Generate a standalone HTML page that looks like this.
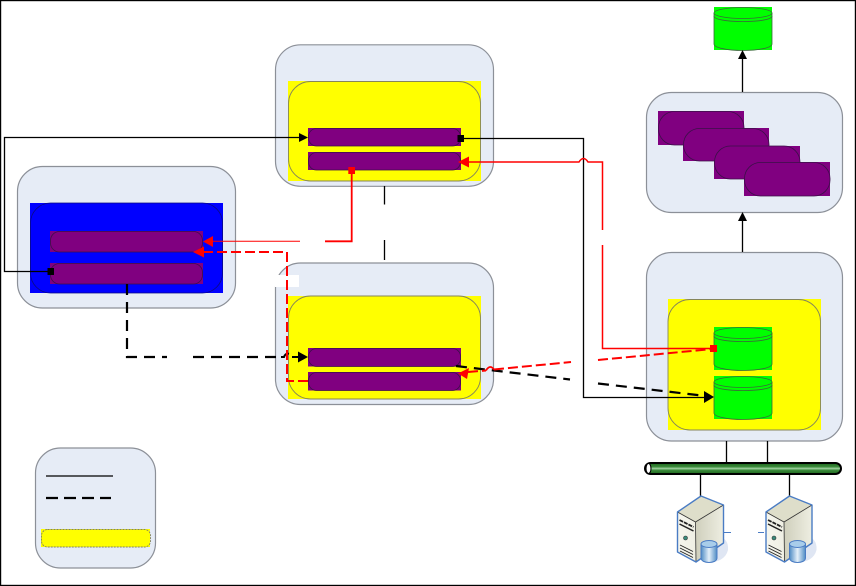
<!DOCTYPE html>
<html><head><meta charset="utf-8"><style>
html,body{margin:0;padding:0;background:#fff;width:856px;height:586px;overflow:hidden}
svg{display:block}
</style></head><body>
<svg width="856" height="586" viewBox="0 0 856 586" xmlns="http://www.w3.org/2000/svg">
<defs>
<linearGradient id="bus" x1="0" y1="0" x2="0" y2="1"><stop offset="0" stop-color="#1c641c"/><stop offset=".35" stop-color="#3c8c3c"/><stop offset=".5" stop-color="#a4d4a4"/><stop offset=".65" stop-color="#3c8c3c"/><stop offset="1" stop-color="#1c641c"/></linearGradient>
<linearGradient id="sf" x1="0" y1="0" x2="1" y2="0"><stop offset="0" stop-color="#f6f6ee"/><stop offset="1" stop-color="#e4e4d4"/></linearGradient>
<linearGradient id="ss" x1="0" y1="0" x2="1" y2="0"><stop offset="0" stop-color="#cfcfbc"/><stop offset="1" stop-color="#eeeee2"/></linearGradient>
<linearGradient id="dbg" x1="0" y1="0" x2="1" y2="0"><stop offset="0" stop-color="#4f8cc4"/><stop offset=".5" stop-color="#e4f0fa"/><stop offset="1" stop-color="#4f8cc4"/></linearGradient>
<g id="cyl">
<rect x="0.500" y="0" width="58" height="43" fill="#00ff00"/>
<path d="M0.500 6V37C0.500 40.500 13 43.500 29.500 43.500S58.500 40.500 58.500 37V6" fill="#00ff00" stroke="#3a6a3a" stroke-width=".8"/>
<ellipse cx="29.500" cy="6" rx="29" ry="5.500" fill="#00ff00" stroke="#3a6a3a" stroke-width=".8"/>
<path d="M0.500 9C0.500 12.500 13 14.500 29.500 14.500S58.500 12.500 58.500 9" fill="none" stroke="#3a6a3a" stroke-width=".8"/>
</g>
<g id="srv">
<path d="M40 40Q52 42 51 54Q48 66 30 67L26 56Z" fill="#dfe6f3"/>
<path d="M0.500 16L24 0L46.500 9V47L19 66L0.500 56Z" fill="url(#sf)"/>
<path d="M0.500 16L24 0L46.500 9L18.500 26Z" fill="#dedeca"/>
<path d="M18.500 26L46.500 9V47L19 66Z" fill="url(#ss)"/>
<path d="M0.500 16L18.500 26L46.500 9M18.500 26L19 66" fill="none" stroke="#333" stroke-width=".8"/>
<path d="M0.500 16L24 0L46.500 9V47L19 66L0.500 56Z" fill="none" stroke="#4a7cc4" stroke-width="1.400" stroke-linejoin="round"/>
<path d="M2.500 24l14 7" stroke="#222" stroke-width="1.800" stroke-dasharray="4 1"/>
<path d="M2.500 28l14 7" stroke="#222" stroke-width="1.500"/>
<circle cx="8.500" cy="42" r="2" fill="#3a8a7a" stroke="#333" stroke-width=".6"/>
<path d="M3 49l13 6.500M3 52l13 6.500M3 55l13 6.500" stroke="#222" stroke-width=".9"/>
<path d="M24 48V62C24 65 28 66.500 32 66.500S40 65 40 62V48Z" fill="url(#dbg)" stroke="#4a7cc4"/>
<ellipse cx="32" cy="48" rx="8" ry="3.500" fill="#a8cdea" stroke="#4a7cc4"/>
</g>
</defs>
<rect x="0" y="0" width="856" height="586" fill="#fff"/>
<rect x="0.500" y="0.500" width="855" height="585" fill="none" stroke="#000" stroke-width="1.400"/>

<!-- cards -->
<g fill="#e6ecf6" stroke="#8c9098" stroke-width="1.200">
<rect x="17.500" y="166.500" width="218" height="141.500" rx="25"/>
<rect x="275.500" y="44.800" width="218" height="141.500" rx="25"/>
<rect x="275.500" y="263" width="218" height="141.500" rx="25"/>
<rect x="646.500" y="92.500" width="196" height="120" rx="25"/>
<rect x="646.500" y="252.500" width="196" height="188.500" rx="25"/>
<rect x="35.500" y="448" width="120" height="120" rx="25"/>
</g>

<!-- blue -->
<rect x="30" y="203" width="193" height="90" fill="#0000ff"/>
<rect x="30.500" y="203" width="192" height="90" rx="20" fill="none" stroke="#0a0a80" stroke-width=".8"/>
<!-- yellow -->
<g fill="#ffff00">
<rect x="288" y="81" width="193" height="100"/>
<rect x="288" y="296" width="193" height="103"/>
<rect x="668" y="299" width="153" height="131"/>
<rect x="41" y="529" width="109" height="18"/>
</g>
<g fill="none" stroke="#85855a" stroke-width=".9">
<rect x="288.500" y="81.500" width="192" height="99.500" rx="22"/>
<rect x="288.500" y="296" width="192" height="103" rx="22"/>
<rect x="668" y="299.500" width="152.500" height="130.500" rx="22"/>
<rect x="41.500" y="529.500" width="109" height="17.500" rx="6" stroke-dasharray="2 1"/>
</g>
<!-- purple -->
<g fill="#800080">
<rect x="50" y="231" width="153" height="21"/>
<rect x="50" y="263" width="153" height="21"/>
<rect x="308" y="128" width="153" height="18"/>
<rect x="308" y="152" width="153" height="18"/>
<rect x="308" y="348" width="153" height="18.500"/>
<rect x="308" y="372" width="153" height="18.500"/>
<rect x="658" y="111" width="86" height="34"/>
<rect x="683" y="128" width="86" height="33"/>
<rect x="714" y="146" width="86" height="33"/>
<rect x="744" y="162" width="86" height="34"/>
</g>
<g fill="none" stroke="#3b1048" stroke-width=".8">
<rect x="50.500" y="231.500" width="152" height="20.500" rx="9"/>
<rect x="50.500" y="263.500" width="152" height="20.500" rx="9"/>
<rect x="308.500" y="128.500" width="152" height="17.500" rx="8"/>
<rect x="308.500" y="152.500" width="152" height="17.500" rx="8"/>
<rect x="308.500" y="348.500" width="152" height="18" rx="8"/>
<rect x="308.500" y="372.500" width="152" height="18" rx="8"/>
<rect x="658.500" y="111.500" width="85.500" height="33.500" rx="16" fill="#800080"/>
<rect x="683.500" y="128.500" width="85.500" height="32.500" rx="16" fill="#800080"/>
<rect x="714.500" y="146" width="85.500" height="33" rx="16" fill="#800080"/>
<rect x="744.500" y="162.500" width="85.500" height="33.500" rx="16" fill="#800080"/>
</g>

<!-- cylinders -->
<use href="#cyl" x="713.500" y="7"/>
<use href="#cyl" x="713.500" y="327"/>
<use href="#cyl" x="713.500" y="376"/>

<!-- white label -->
<rect x="275" y="275" width="24" height="12" fill="#fff"/>

<!-- black solid -->
<g fill="none" stroke="#000" stroke-width="1.300">
<path d="M50 271.500H4.500V137.500H300"/>
<path d="M461 138.500H583.500V397.500H706"/>
<path d="M384.500 186V204.500M384.500 240V260"/>
<path d="M742.500 92V58M742.500 252V220"/>
<path d="M726.500 441V463M767.500 441V463M700.500 474V498M789.500 474V498"/>
<path d="M46 476H113"/>
</g>
<g fill="#000">
<path d="M308 137.500L299 133V142Z"/>
<path d="M714 397L704 391V403Z"/>
<path d="M742.500 50L738 59H747Z"/>
<path d="M742.500 212L738 221H747Z"/>
<rect x="47.500" y="268" width="6.500" height="7"/>
<rect x="457.500" y="135" width="6.500" height="7"/>
</g>

<!-- black dashed -->
<g fill="none" stroke="#000" stroke-width="2.200" stroke-dasharray="11 7">
<path d="M127 284V357H167"/>
<path d="M193 357H281"/>
<path d="M456 366L570 379.500"/>
<path d="M598 383.500L706 396"/>
<path d="M46 498H111" stroke-dasharray="12 6"/>
</g>
<path d="M281 357H284Q285.500 353 289 353.800M292 357H301" fill="none" stroke="#000" stroke-width="2"/>
<path d="M308 357L298 351.500V362.500Z" fill="#000"/>

<!-- red solid -->
<g fill="none" stroke="#ff0000" stroke-width="1.500">
<path d="M351.700 170V241.300H325" stroke-width="1.800"/>
<path d="M300 241.300H212" stroke-width="1"/>
<path d="M468 162H579Q583.500 155 588 162H602.500V230" />
<path d="M602.500 245V348.500H712"/>
</g>
<g fill="#ff0000">
<path d="M203 241.500L213 236V247Z"/>
<path d="M458 162L469 156.500V167.500Z"/>
<rect x="348.300" y="167" width="6.700" height="7"/>
<rect x="710" y="345" width="7" height="7"/>
<path d="M193 252L204 246.500V257.500Z"/>
<path d="M458 373.500L469 368L467 379Z"/>
</g>
<!-- red dashed -->
<g fill="none" stroke="#ff0000" stroke-width="2" stroke-dasharray="10 4">
<path d="M203 252H287V381H309"/>
<path d="M468 372L486 370.500"/>
<path d="M494 369.500L571 362"/>
<path d="M598 360L712 349"/>
</g>
<path d="M486 370.500Q490 364 494 369.500" fill="none" stroke="#ff0000" stroke-width="1.800"/>

<!-- bus -->
<rect x="645" y="463" width="196" height="11" rx="5.500" fill="url(#bus)" stroke="#000" stroke-width="2"/>
<ellipse cx="648.500" cy="468.500" rx="2.500" ry="5" fill="#fff" stroke="#000" stroke-width="1.100"/>

<!-- servers -->
<use href="#srv" x="677" y="496"/>
<use href="#srv" x="765.500" y="496"/>
<path d="M724 532.500H731M758 532.500H764" stroke="#4a7cc4" stroke-width="1"/>
</svg>
</body></html>
